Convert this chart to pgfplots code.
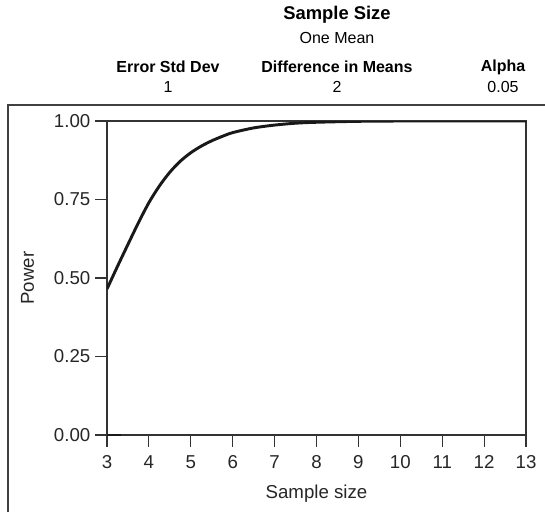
\documentclass[border=0pt]{standalone}
\usepackage{fontspec}
\setmainfont{Liberation Sans}
\usepackage{pgfplots}
\pgfplotsset{compat=1.18}

\begin{document}
\begin{tikzpicture}[x=0.75pt,y=0.75pt]
  \useasboundingbox (0,0) rectangle (545,512);
  % outer frame (left and top edges only visible)
  \draw[line width=1.1pt, black!75] (8,0) -- (8,407) -- (545,407);

  % header
  \node[font=\bfseries\fontsize{13.8}{15}\selectfont] at (337,497) {Sample Size};
  \node[font=\fontsize{12}{13}\selectfont] at (337,474) {One Mean};
  \node[font=\bfseries\fontsize{12}{13}\selectfont] at (168,445) {Error Std Dev};
  \node[font=\fontsize{12}{13}\selectfont] at (168,425) {1};
  \node[font=\bfseries\fontsize{12}{13}\selectfont] at (337,445) {Difference in Means};
  \node[font=\fontsize{12}{13}\selectfont] at (337,425) {2};
  \node[font=\bfseries\fontsize{12}{13}\selectfont] at (503,445) {Alpha};
  \node[font=\fontsize{12}{13}\selectfont] at (503,425) {0.05};

  \begin{axis}[
      at={(80.25pt,57.75pt)}, anchor=south west,
      scale only axis,
      width=314.25pt, height=235.5pt,
      xmin=3, xmax=13, ymin=0, ymax=1,
      xtick={3,4,...,13},
      ytick={0,0.25,0.5,0.75,1},
      yticklabel style={/pgf/number format/fixed, /pgf/number format/precision=2, /pgf/number format/fixed zerofill},
      /pgf/number format/assume math mode=true,
      tick label style={font=\fontsize{14}{16}\selectfont, black!85},
      xticklabel style={yshift=-3pt},
      tick align=outside,
      xtick pos=lower, ytick pos=left,
      major tick length=9pt,
      axis line style={line width=0.8pt, black!80},
      every tick/.style={line width=0.8pt, black!80},
      xlabel={Sample size}, ylabel={Power},
      label style={font=\fontsize{14}{16}\selectfont, black!85},
      xlabel style={yshift=-5pt},
      ylabel style={yshift=8pt},
    ]
    \addplot[line width=2.2pt, black!90, smooth, tension=0.5] coordinates {
      (3.0,0.465) (3.25,0.537) (3.5,0.607) (3.75,0.676) (4.0,0.740)
      (4.25,0.793) (4.5,0.837) (4.75,0.872) (5.0,0.899) (5.25,0.920)
      (5.5,0.937) (5.75,0.951) (6.0,0.963) (6.5,0.978) (7.0,0.987)
      (7.5,0.993) (8.0,0.996) (9.0,0.999) (10.0,1.0) (11.0,1.0)
      (12.0,1.0) (13.0,1.0)
    };
    \addplot[line width=1.6pt, black!90] coordinates {(3,0) (3.33,0)};
  \end{axis}
\end{tikzpicture}
\end{document}
